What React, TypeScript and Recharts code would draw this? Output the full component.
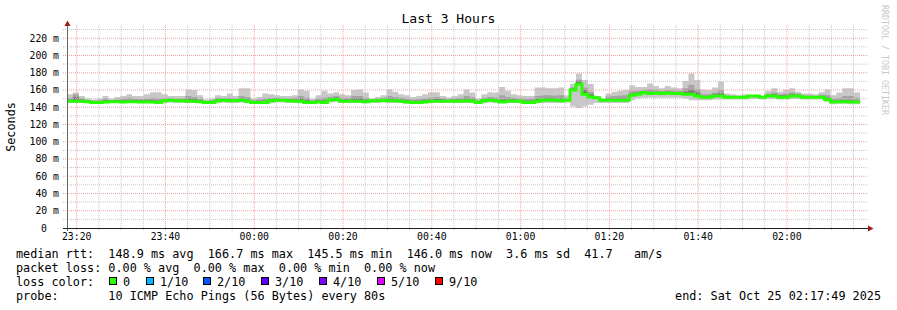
import { ComposedChart, Area, Line, XAxis, YAxis, ReferenceLine } from 'recharts'

const FONT = '"DejaVu Sans Mono", monospace'
const STEP_MINUTES = 80 / 60

// one value per 80s step, starting 23:17:49
const median = [
  147, 147, 147, 146.5, 145.5, 145.5, 146, 146.5, 146.5, 146,
  146.5, 146.5, 146, 146, 146, 145.5, 147.5, 148, 147.5, 147.5,
  147, 147, 146.5, 145.5, 145.5, 147.5, 148, 147.5, 147.5, 148,
  147, 145.5, 145.5, 145.5, 147.5, 148, 148, 147.5, 147, 147,
  145.5, 145.5, 146, 145.5, 148.5, 149, 147, 147, 147, 147,
  146.5, 147.5, 147.5, 148, 147.5, 147.5, 147, 146, 145.5, 145.5,
  146, 147, 147, 147, 147, 147, 147, 147.5, 147, 145.5,
  147.5, 148, 147.5, 146, 147, 147, 147, 145.5, 145.5, 147,
  148, 148.5, 148, 147.5, 148, 160, 166.7, 155, 152, 151,
  148, 148, 148, 148, 148, 154, 155, 157, 156, 156.5,
  156, 156.5, 156, 156, 155, 155, 153, 151.5, 151.5, 153,
  153, 151.5, 151.5, 151.5, 151.5, 153, 153, 151.5, 153, 153,
  151.5, 151.5, 153, 153, 151.5, 151.5, 151.5, 151.5, 149, 146,
  146.5, 146.5, 146, 146,
]

const minRtt = [
  145, 145, 145, 145, 144, 144, 144.5, 145, 145, 144.5,
  145, 145, 144.5, 144.5, 144.5, 144, 145, 145.5, 145, 145,
  145, 145, 145, 144, 144, 145, 145.5, 145, 145, 145.5,
  145, 144, 144, 144, 145, 145.5, 145.5, 145, 145, 145,
  144, 144, 144.5, 144, 145.5, 146, 145, 145, 145, 145,
  144.5, 145, 145, 145.5, 145, 145, 145, 144, 144, 144,
  144.5, 145, 145, 145, 145, 145, 145, 145, 145, 144,
  145, 145.5, 145, 144.5, 145, 145, 145, 144, 144, 144.5,
  145, 145, 145, 145, 145.5, 141, 139, 141, 143, 145,
  145, 145, 145, 145, 145, 148, 150, 151, 151, 151,
  151, 151, 151, 151, 150, 148, 148, 148, 148, 149,
  149, 149, 149, 149, 149, 149.5, 149.5, 149, 149.5, 149.5,
  149, 149, 149.5, 149.5, 149, 149, 149, 149, 146.5, 143.5,
  144, 144, 143.5, 143.5,
]

const maxRtt = [
  155, 157, 153, 150, 149, 150, 153, 150, 152, 153,
  155, 153, 153, 155, 157.5, 157.5, 155, 153, 153, 153,
  160.5, 160, 154, 149, 150, 154, 153, 156, 153, 162,
  162, 150, 152, 156, 155, 154, 153, 153, 154, 160.5,
  159, 150, 154, 159, 156, 157.5, 155, 154, 160, 160.5,
  157, 150, 152, 154, 161, 158, 155, 154, 152, 153,
  155, 157.5, 157.5, 153, 151.5, 153, 155, 160.5, 157, 150,
  155, 157.5, 157, 163.5, 159, 155, 154, 153, 153, 163,
  163, 162, 162, 163, 154, 167, 179, 171.5, 167, 153,
  150, 156, 158, 159, 160, 165.5, 163.5, 163.5, 167.5, 164.5,
  162, 164.5, 163, 162, 170.5, 179, 171.5, 160.5, 160, 163,
  169.5, 156, 155, 154, 155, 154, 154, 153, 159, 162,
  158, 160.5, 162, 158, 156, 156, 155, 157.5, 160.5, 154,
  157, 162, 162, 157,
]

const upper80 = [
  151, 155, 150, 148.5, 147.5, 148, 150, 148.5, 149, 150,
  151, 150, 149.5, 150, 151, 150, 150.5, 150.5, 150, 150,
  153, 152, 150, 147.5, 148, 151, 150.5, 151, 150, 153,
  152, 148, 149, 150, 151, 151, 150.5, 150.5, 151, 153,
  151, 148, 150, 151, 152, 153, 151, 151, 153, 153,
  151, 149, 150, 151, 153, 152, 151, 150, 149, 149.5,
  150.5, 151, 152, 150.5, 149.5, 150.5, 151, 153, 151.5, 148,
  151, 152, 151.5, 154, 152, 151, 150.5, 149.5, 150, 153,
  154, 154, 153.5, 154, 151, 163, 172, 163, 158, 152.5,
  149.5, 152.5, 153, 153.5, 154, 159, 159, 160, 161, 160,
  159, 160, 159.5, 159, 162, 166, 161, 155, 155, 157,
  160, 153.5, 153, 152.5, 153, 153.5, 153.5, 152.5, 155.5, 157,
  155, 155.5, 157, 155.5, 153.5, 153.5, 153, 154.5, 154, 150,
  151, 153, 153, 151,
]

const upper60 = [
  149, 152, 149, 148, 147, 147, 148, 148, 148, 148,
  148.5, 148.5, 148, 148, 148.5, 147.5, 149, 149.5, 149, 149,
  150, 149.5, 148.5, 147, 147, 149.5, 149.5, 149.5, 149, 150,
  149, 147, 147.5, 147.5, 149.5, 150, 149.5, 149.5, 149, 150,
  148, 147, 148, 148, 150, 151, 149, 149, 150, 150,
  149, 148.5, 149, 149.5, 150, 149.5, 149, 148, 147.5, 147.5,
  148, 149, 149.5, 149, 148.5, 149, 149, 150, 149, 147,
  149, 150, 149.5, 149, 149, 149, 148.5, 147.5, 147.5, 149.5,
  150.5, 151, 150.5, 150.5, 149.5, 162, 170, 160, 155, 151.5,
  149.5, 150, 150, 150.5, 150.5, 156, 157, 158.5, 158, 158,
  157.5, 158, 157.5, 157.5, 158, 160, 157, 153, 153, 155,
  156, 152.5, 152.5, 152, 152.5, 153.5, 153.5, 152, 154.5, 155,
  153.5, 153.5, 155, 154.5, 152.5, 152.5, 152.5, 153, 151, 147.5,
  148, 148.5, 148, 147.5,
]

// minutes after 23:17:49
const timeTicks = [2.1833, 22.1833, 42.1833, 62.1833, 82.1833, 102.1833, 122.1833, 142.1833, 162.1833]
const timeLabels = ['23:20', '23:40', '00:00', '00:20', '00:40', '01:00', '01:20', '01:40', '02:00']
const rttTicks = [0, 20, 40, 60, 80, 100, 120, 140, 160, 180, 200, 220]

const lossColors = [
  { label: '0', color: '#26ff00' },
  { label: '1/10', color: '#00b8ff' },
  { label: '2/10', color: '#0059ff' },
  { label: '3/10', color: '#5e00ff' },
  { label: '4/10', color: '#7e00ff' },
  { label: '5/10', color: '#dd00ff' },
  { label: '9/10', color: '#ff0000' },
]
const lossX = [109, 146, 203, 261, 319, 377, 435]

const rows = median.map((m, i) => ({
  t: i * STEP_MINUTES,
  median: m,
  light: [minRtt[i], maxRtt[i]],
  mid: [m, upper80[i]],
  dark: [m, upper60[i]],
}))
// close the last step
const last = rows[rows.length - 1]
rows.push({ ...last, t: rows.length * STEP_MINUTES })

const minorV: number[] = []
for (let t = timeTicks[0]; t < 180; t += 5) {
  if (!timeTicks.some((m) => Math.abs(m - t) < 0.01)) minorV.push(t)
}
const minorH = [10, 30, 50, 70, 90, 110, 130, 150, 170, 190, 210, 230]
const majorH = rttTicks.filter((v) => v > 0)

function YTick({ y, payload }: any) {
  const v = payload.value
  return (
    <text x={v === 0 ? 47 : 59} y={y} dy={3.5} textAnchor="end" fontSize={9.8} fontFamily={FONT} fill="#000">
      {v === 0 ? '0' : `${v} m`}
    </text>
  )
}

const rowStyle = (top: number) => ({
  position: 'absolute' as const,
  left: 16,
  top,
  height: 14,
  lineHeight: '14px',
  fontSize: 11.8,
  whiteSpace: 'pre' as const,
  color: '#000',
})

export default function App() {
  return (
    <div style={{ position: 'relative', width: 897, height: 310, background: '#fff', fontFamily: FONT, overflow: 'hidden' }}>
      <style>{'body{margin:0}'}</style>
      <ComposedChart width={897} height={310} data={rows} margin={{ top: 24, right: 31, bottom: 62, left: 7 }}>
        {minorH.map((v) => (
          <ReferenceLine key={`mh${v}`} segment={[{ x: -0.9, y: v }, { x: 180.4, y: v }]} ifOverflow="visible" stroke="#c4c4c4" strokeDasharray="1 1" />
        ))}
        {minorV.map((t) => (
          <ReferenceLine key={`mv${t}`} segment={[{ x: t, y: -2.5 }, { x: t, y: 236.5 }]} ifOverflow="visible" stroke="#c4c4c4" strokeDasharray="1 1" />
        ))}
        {majorH.map((v) => (
          <ReferenceLine key={`Mh${v}`} segment={[{ x: -0.9, y: v }, { x: 180.4, y: v }]} ifOverflow="visible" stroke="#f0a0a0" strokeDasharray="1 1" />
        ))}
        {timeTicks.map((t) => (
          <ReferenceLine key={`Mv${t}`} segment={[{ x: t, y: -2.5 }, { x: t, y: 236.5 }]} ifOverflow="visible" stroke="#f0a0a0" strokeDasharray="1 1" />
        ))}
        <XAxis
          type="number"
          dataKey="t"
          domain={[0, 180]}
          ticks={timeTicks}
          tickFormatter={(v: number) => timeLabels[timeTicks.indexOf(v)] ?? ''}
          axisLine={false}
          tickLine={false}
          tickSize={3}
          tickMargin={2}
          height={20}
          allowDataOverflow
          interval={0}
          tick={{ fontSize: 9.8, fontFamily: FONT, fill: '#000' }}
        />
        <YAxis
          type="number"
          domain={[0, 236.5]}
          ticks={rttTicks}
          tick={<YTick />}
          axisLine={false}
          tickLine={false}
          width={60}
          allowDataOverflow
          interval={0}
        />
        <Area dataKey="light" type="stepAfter" stroke="none" fill="#c8c8c8" fillOpacity={1} isAnimationActive={false} />
        <Area dataKey="mid" type="stepAfter" stroke="none" fill="#a4a4a4" fillOpacity={1} isAnimationActive={false} />
        <Area dataKey="dark" type="stepAfter" stroke="none" fill="#777777" fillOpacity={1} isAnimationActive={false} />
        <Line dataKey="median" type="stepAfter" stroke="#26ff00" strokeWidth={3} dot={false} isAnimationActive={false} />
      </ComposedChart>

      <svg width={897} height={310} style={{ position: 'absolute', left: 0, top: 0, pointerEvents: 'none' }}>
        <line x1={67.5} y1={231} x2={67.5} y2={24} stroke="#666" strokeWidth={1} />
        <line x1={63} y1={228.5} x2={869} y2={228.5} stroke="#222" strokeWidth={1} />
        <polygon points="64.5,26 70.5,26 67.5,20.5" fill="#9b1c1c" />
        <polygon points="868,225.5 868,231.5 873.5,228.5" fill="#9b1c1c" />
        <text transform="translate(15,127) rotate(-90)" textAnchor="middle" fontSize={11.8} fontFamily={FONT} fill="#000">
          Seconds
        </text>
        <text transform="translate(882,5) rotate(90)" fontSize={8.3} fontFamily={FONT} fill="#c8c8c8">
          RRDTOOL / TOBI OETIKER
        </text>
      </svg>

      <div style={{ position: 'absolute', left: 0, top: 11, width: 897, textAlign: 'center', fontSize: 13, lineHeight: '16px' }}>
        Last 3 Hours
      </div>
      <div style={rowStyle(247)}>median rtt:  148.9 ms avg  166.7 ms max  145.5 ms min  146.0 ms now  3.6 ms sd  41.7   am/s</div>
      <div style={rowStyle(261)}>packet loss: 0.00 % avg  0.00 % max  0.00 % min  0.00 % now</div>
      <div style={rowStyle(275)}>loss color:</div>
      {lossColors.map((c, i) => (
        <div key={c.label}>
          <div style={{ position: 'absolute', left: lossX[i], top: 277, width: 6, height: 6, border: '1px solid #000', background: c.color }} />
          <div style={{ ...rowStyle(275), left: lossX[i] + 14 }}>{c.label}</div>
        </div>
      ))}
      <div style={rowStyle(289)}>probe:       10 ICMP Echo Pings (56 Bytes) every 80s</div>
      <div style={{ ...rowStyle(289), left: 'auto', right: 16 }}>end: Sat Oct 25 02:17:49 2025</div>
    </div>
  )
}
